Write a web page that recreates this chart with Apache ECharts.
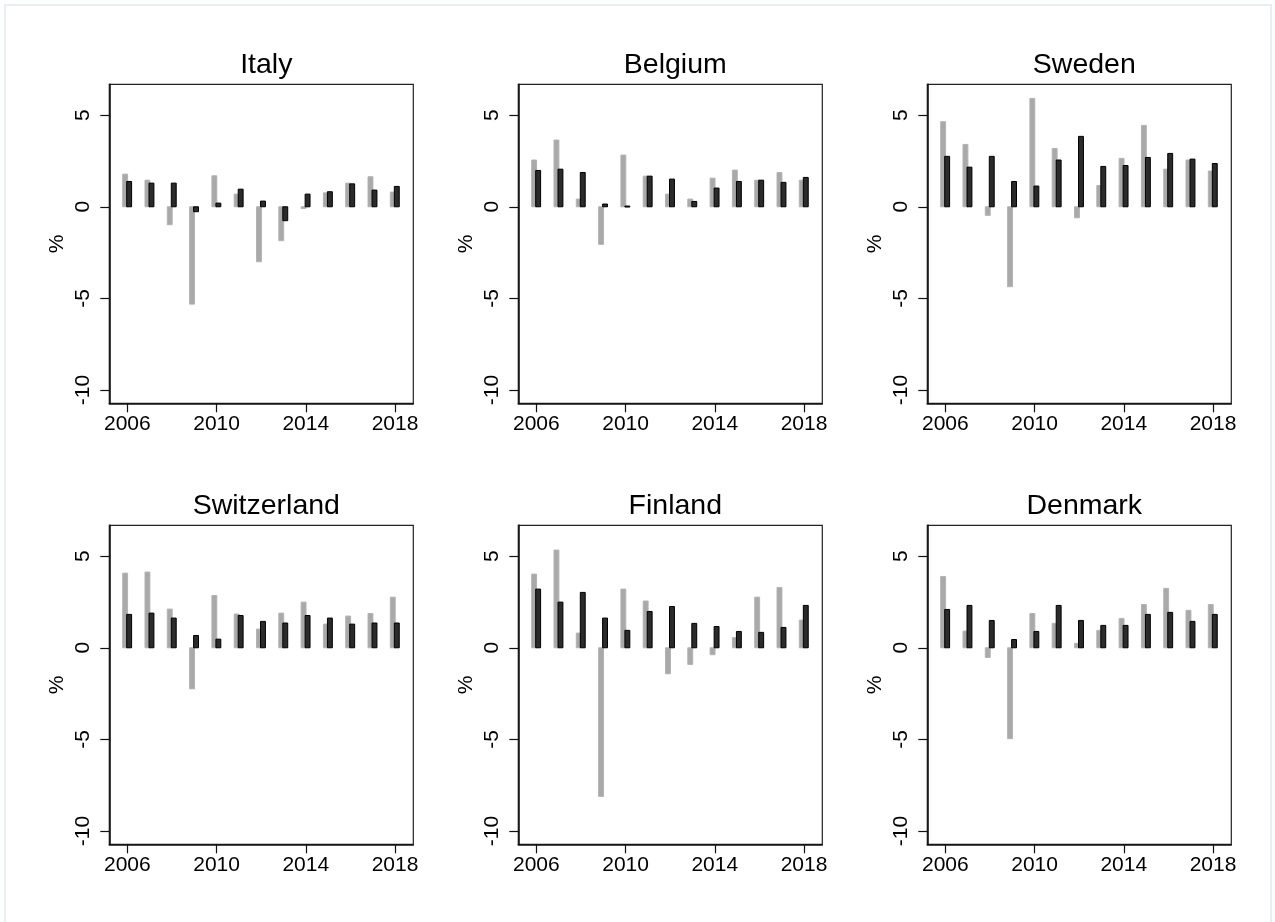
<!DOCTYPE html>
<html>
<head>
<meta charset="utf-8">
<title>Growth by country, 2006–2018</title>
<script src="https://cdn.jsdelivr.net/npm/echarts@6/dist/echarts.min.js"></script>
<style>
  html, body { margin: 0; padding: 0; background: #ffffff; }
  #chart { width: 1275px; height: 922px; }
</style>
</head>
<body>
<div id="chart"></div>
<script>
// Years on the horizontal axis and the labelled ticks
const years = [2006, 2007, 2008, 2009, 2010, 2011, 2012, 2013, 2014, 2015, 2016, 2017, 2018];
const xTicks = [2006, 2010, 2014, 2018];
const yTicks = [-10, -5, 0, 5];

const countries = ['Italy', 'Belgium', 'Sweden', 'Switzerland', 'Finland', 'Denmark'];

// Light bars (%), one value per year
const italyLight       = [1.78, 1.45, -0.98, -5.31, 1.69, 0.69, -3.00, -1.85, -0.09, 0.76, 1.29, 1.64, 0.80];
const belgiumLight     = [2.55, 3.64, 0.42, -2.05, 2.82, 1.67, 0.69, 0.42, 1.56, 2.00, 1.45, 1.87, 1.45];
const swedenLight      = [4.64, 3.40, -0.47, -4.36, 5.91, 3.18, -0.60, 1.16, 2.64, 4.44, 2.05, 2.55, 1.95];
const switzerlandLight = [4.07, 4.13, 2.11, -2.24, 2.85, 1.84, 1.02, 1.89, 2.49, 1.29, 1.73, 1.87, 2.76];
const finlandLight     = [4.02, 5.33, 0.80, -8.11, 3.20, 2.55, -1.42, -0.91, -0.38, 0.55, 2.76, 3.29, 1.51];
const denmarkLight     = [3.89, 0.91, -0.53, -4.96, 1.87, 1.33, 0.24, 0.95, 1.60, 2.36, 3.24, 2.04, 2.36];

// Dark bars (%), one value per year
const italyDark       = [1.38, 1.29, 1.29, -0.27, 0.20, 0.96, 0.31, -0.76, 0.69, 0.82, 1.25, 0.91, 1.11];
const belgiumDark     = [1.98, 2.05, 1.87, 0.15, 0.04, 1.67, 1.51, 0.29, 1.02, 1.38, 1.45, 1.33, 1.60];
const swedenDark      = [2.75, 2.16, 2.75, 1.38, 1.13, 2.55, 3.84, 2.20, 2.25, 2.69, 2.91, 2.60, 2.36];
const switzerlandDark = [1.82, 1.89, 1.62, 0.67, 0.47, 1.76, 1.44, 1.35, 1.76, 1.62, 1.29, 1.35, 1.35];
const finlandDark     = [3.20, 2.49, 3.02, 1.62, 0.95, 1.98, 2.25, 1.33, 1.16, 0.89, 0.84, 1.11, 2.31];
const denmarkDark     = [2.09, 2.31, 1.49, 0.45, 0.89, 2.31, 1.49, 1.22, 1.22, 1.82, 1.93, 1.44, 1.82];

const lightSets = [italyLight, belgiumLight, swedenLight, switzerlandLight, finlandLight, denmarkLight];
const darkSets  = [italyDark, belgiumDark, swedenDark, switzerlandDark, finlandDark, denmarkDark];

// Panel geometry (pixels)
const FONT = "'Liberation Sans', Arial, Helvetica, sans-serif";
const colLeft = [109.3, 518.3, 927.3];
const rowTop = [84.3, 525.3];
const panelW = 304;
const panelH = 319;

// Bar placement in years relative to the tick
const BAR_W = 0.22;
const LIGHT_OFF = -0.10;
const DARK_OFF = 0.08;

function barRenderer(offset, fill, stroke) {
  return function (params, api) {
    const x = api.value(0);
    const v = api.value(1);
    const p0 = api.coord([x + offset - BAR_W / 2, 0]);
    const p1 = api.coord([x + offset + BAR_W / 2, v]);
    const left = Math.min(p0[0], p1[0]);
    const top = Math.min(p0[1], p1[1]);
    return {
      type: 'rect',
      shape: { x: left, y: top, width: Math.abs(p1[0] - p0[0]), height: Math.max(Math.abs(p1[1] - p0[1]), 1) },
      style: { fill: fill, stroke: stroke, lineWidth: 1 }
    };
  };
}

const grids = [], xAxes = [], yAxes = [], series = [], titles = [];

countries.forEach(function (name, i) {
  const col = i % 3, row = Math.floor(i / 3);
  grids.push({
    left: colLeft[col], top: rowTop[row], width: panelW, height: panelH,
    show: true, borderColor: '#222', borderWidth: 1.2, backgroundColor: '#fff'
  });
  xAxes.push({
    type: 'value', gridIndex: i, min: 2005.19, max: 2018.82,
    splitLine: { show: false },
    axisLine: { show: true, onZero: false, lineStyle: { color: '#111', width: 1.6 } },
    axisTick: { show: true, length: 9, customValues: xTicks, lineStyle: { color: '#111', width: 1.2 } },
    axisLabel: {
      customValues: xTicks, margin: 10, color: '#000', fontFamily: FONT, fontSize: 21, lineHeight: 21,
      formatter: function (v) { return String(Math.round(v)); }
    }
  });
  yAxes.push({
    type: 'value', gridIndex: i, min: -10.72, max: 6.68,
    name: '%', nameLocation: 'middle', nameRotate: 90, nameGap: 42,
    nameTextStyle: { color: '#000', fontFamily: FONT, fontSize: 21 },
    splitLine: { show: false },
    axisLine: { show: true, lineStyle: { color: '#111', width: 1.6 } },
    axisTick: { show: true, length: 9, customValues: yTicks, lineStyle: { color: '#111', width: 1.2 } },
    axisLabel: {
      customValues: yTicks, rotate: 90, margin: 16, color: '#000', fontFamily: FONT, fontSize: 21, lineHeight: 21,
      formatter: function (v) { return String(Math.round(v)); }
    }
  });
  titles.push({
    text: name,
    left: colLeft[col] + panelW / 2, top: rowTop[row] - 38.5,
    textAlign: 'center',
    textStyle: { color: '#000', fontFamily: FONT, fontSize: 28.5, fontWeight: 'normal', lineHeight: 29 }
  });
  series.push({
    type: 'custom', xAxisIndex: i, yAxisIndex: i, name: name + ' light',
    renderItem: barRenderer(LIGHT_OFF, '#a9a9a9', '#b3b3b3'),
    data: years.map(function (y, k) { return [y, lightSets[i][k]]; }),
    silent: true
  });
  series.push({
    type: 'custom', xAxisIndex: i, yAxisIndex: i, name: name + ' dark',
    renderItem: barRenderer(DARK_OFF, '#2b2b2b', '#000'),
    data: years.map(function (y, k) { return [y, darkSets[i][k]]; }),
    silent: true
  });
});

const chart = echarts.init(document.getElementById('chart'), null, { renderer: 'canvas' });
chart.setOption({
  backgroundColor: '#ffffff',
  animation: false,
  title: titles,
  grid: grids,
  xAxis: xAxes,
  yAxis: yAxes,
  series: series,
  graphic: [{
    type: 'rect', z: -1, silent: true,
    shape: { x: 5, y: 5, width: 1266, height: 930 },
    style: { fill: 'none', stroke: '#e6eff1', lineWidth: 2 }
  }]
});
</script>
</body>
</html>
